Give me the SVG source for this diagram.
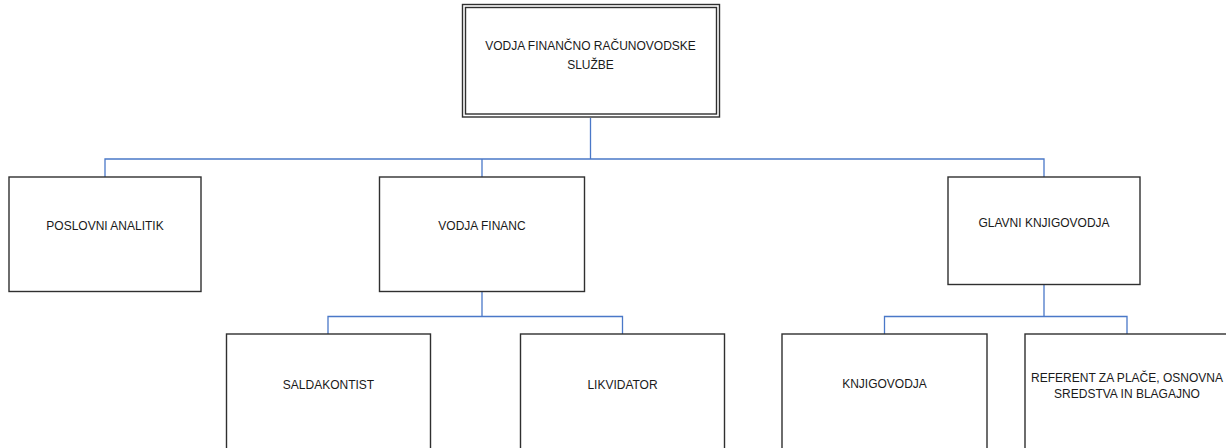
<svg xmlns="http://www.w3.org/2000/svg" width="1226" height="448" viewBox="0 0 1226 448">
  <style>
    .box { fill: #ffffff; stroke: #2f2f2f; stroke-width: 1.4; }
    .conn { fill: none; stroke: #4a78c8; stroke-width: 1.3; }
    .lbl { font-family: "Liberation Sans", Arial, sans-serif; font-size: 12px; fill: #1a1a1a; text-anchor: middle; }
  </style>
  <rect width="1226" height="448" fill="#ffffff"/>

  <!-- connectors -->
  <g id="connectors">
    <path class="conn" d="M590.5 118 V159 M105 177 V159 H1044 V177 M482 159 V177"/>
    <path class="conn" d="M482 291 V316.5 M328 334 V316.5 H622.5 V334"/>
    <path class="conn" d="M1044 284 V316.5 M884.5 334 V316.5 H1127 V334"/>
  </g>

  <g id="node-vodja-sluzbe">
    <rect class="box" x="462.5" y="4.5" width="257" height="112.5"/>
    <rect class="box" x="465.5" y="7.5" width="251" height="106.5"/>
    <text class="lbl" x="590.5" y="50">VODJA FINANČNO RAČUNOVODSKE</text>
    <text class="lbl" x="590.5" y="69">SLUŽBE</text>
  </g>

  <g id="node-poslovni-analitik">
    <rect class="box" x="9" y="177" width="192" height="114.5"/>
    <text class="lbl" x="105" y="230">POSLOVNI ANALITIK</text>
  </g>

  <g id="node-vodja-financ">
    <rect class="box" x="379.5" y="177" width="205" height="114.5"/>
    <text class="lbl" x="482" y="230">VODJA FINANC</text>
  </g>

  <g id="node-glavni-knjigovodja">
    <rect class="box" x="948" y="177" width="192" height="107.5"/>
    <text class="lbl" x="1044" y="227">GLAVNI KNJIGOVODJA</text>
  </g>

  <g id="node-saldakontist">
    <rect class="box" x="226.5" y="334" width="204" height="124"/>
    <text class="lbl" x="328.5" y="389">SALDAKONTIST</text>
  </g>

  <g id="node-likvidator">
    <rect class="box" x="520.5" y="334" width="204" height="124"/>
    <text class="lbl" x="622.5" y="389">LIKVIDATOR</text>
  </g>

  <g id="node-knjigovodja">
    <rect class="box" x="782" y="334" width="205" height="124"/>
    <text class="lbl" x="884.5" y="388">KNJIGOVODJA</text>
  </g>

  <g id="node-referent">
    <rect class="box" x="1025" y="334" width="205" height="124"/>
    <text class="lbl" x="1127" y="382">REFERENT ZA PLAČE, OSNOVNA</text>
    <text class="lbl" x="1127" y="398">SREDSTVA IN BLAGAJNO</text>
  </g>
</svg>
